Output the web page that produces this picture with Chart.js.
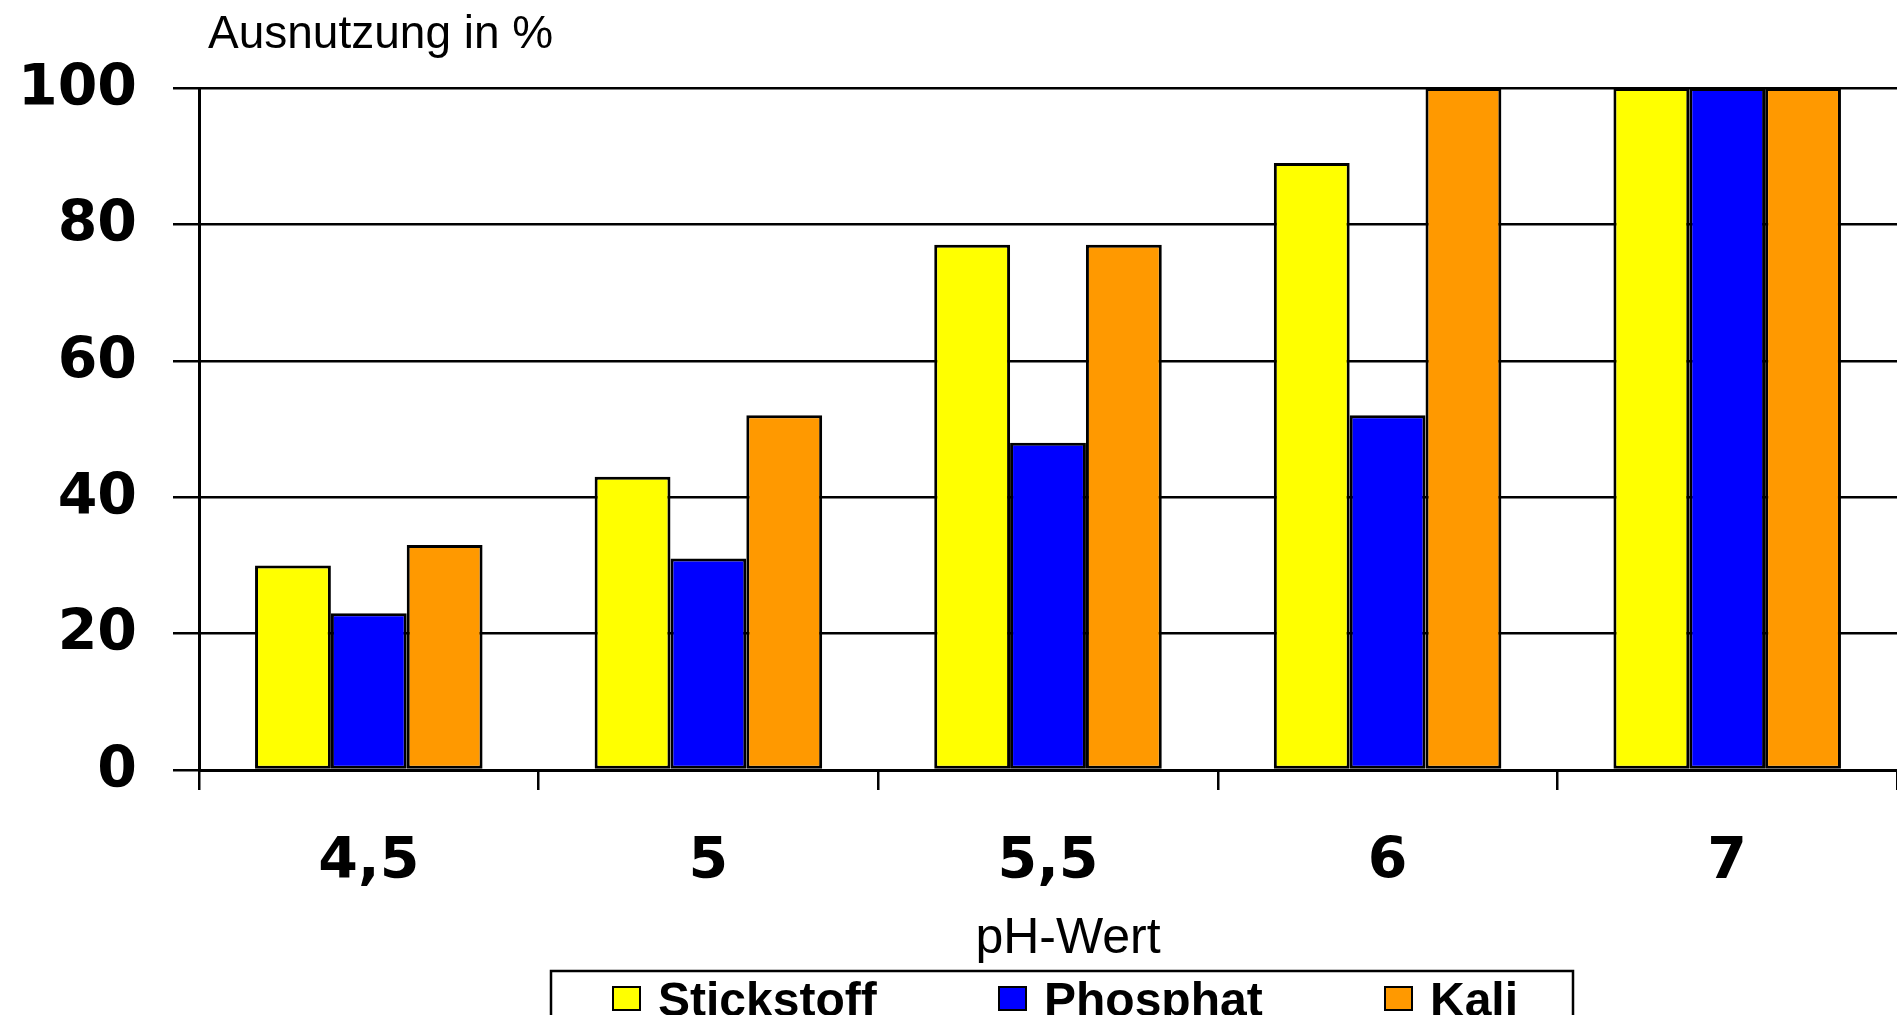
<!DOCTYPE html>
<html>
<head>
<meta charset="utf-8">
<script src="https://cdn.jsdelivr.net/npm/chart.js@4.4.1/dist/chart.umd.min.js"></script>
<style>
html,body{margin:0;padding:0;background:#fff;overflow:hidden;}
#wrap{width:1897px;height:1015px;}
</style>
</head>
<body>
<div id="wrap"><canvas id="c" width="1897" height="1015"></canvas></div>
<script>
const categories = ["4,5", "5", "5,5", "6", "7"];
const stickstoff = [30, 43, 77, 89, 100];
const phosphat   = [23, 31, 48, 52, 100];
const kali       = [33, 52, 77, 100, 100];
const seriesNames = ["Stickstoff", "Phosphat", "Kali"];
const seriesColors = ["#FFFF00", "#0000FF", "#FF9900"];
const yTicks = [0, 20, 40, 60, 80, 100];
const yTitle = "Ausnutzung in %";
const xTitle = "pH-Wert";

const overlay = {
  id: 'overlay',
  afterDraw(chart) {
    const ctx = chart.ctx;
    ctx.save();
    ctx.fillStyle = '#000';
    ctx.textBaseline = 'alphabetic';
    ctx.font = '46px "Liberation Sans", Arial, sans-serif';
    ctx.textAlign = 'left';
    ctx.fillText(yTitle, 208, 48);
    ctx.font = '50px "Liberation Sans", Arial, sans-serif';
    ctx.textAlign = 'center';
    ctx.fillText(xTitle, 1068, 953);

    // legend box
    ctx.lineWidth = 2.5;
    ctx.strokeStyle = '#000';
    ctx.fillStyle = '#fff';
    ctx.beginPath();
    ctx.rect(551, 971, 1022, 80);
    ctx.fill();
    ctx.stroke();
    ctx.font = 'bold 48px "Liberation Sans", Arial, sans-serif';
    ctx.textAlign = 'left';
    const x0 = 613, step = 386;
    chart.data.datasets.forEach((ds, i) => {
      const x = x0 + i * step;
      ctx.fillStyle = ds.backgroundColor;
      ctx.fillRect(x, 987, 27, 23);
      ctx.lineWidth = 2;
      ctx.strokeStyle = '#000';
      ctx.strokeRect(x, 987, 27, 23);
      ctx.fillStyle = '#000';
      ctx.fillText(ds.label, x + 45, 1016);
    });
    ctx.restore();
  }
};

new Chart(document.getElementById('c'), {
  type: 'bar',
  data: {
    labels: categories,
    datasets: [stickstoff, phosphat, kali].map((d, i) => ({
      label: seriesNames[i],
      data: d,
      backgroundColor: seriesColors[i],
      borderColor: '#000',
      borderWidth: 3,
      borderSkipped: false,
      categoryPercentage: 0.67,
      barPercentage: 1.0
    }))
  },
  options: {
    responsive: false,
    animation: false,
    devicePixelRatio: 1,
    layout: { padding: { top: 88, right: 0, left: 0, bottom: 0 } },
    plugins: { legend: { display: false }, title: { display: false }, tooltip: { enabled: false } },
    scales: {
      x: {
        grid: { offset: true, drawOnChartArea: false, drawTicks: true, tickLength: 20, color: '#000', lineWidth: 2.5 },
        border: { display: true, color: '#000', width: 3 },
        ticks: { color: '#000', padding: 39, font: { family: '"DejaVu Sans", sans-serif', weight: 'bold', size: 57 } },
        afterFit(scale) { scale.height = 245; }
      },
      y: {
        min: 0, max: 100,
        afterBuildTicks(scale) { scale.ticks = yTicks.map(v => ({ value: v })); },
        grid: { color: '#000', lineWidth: 2.5, tickLength: 26, drawTicks: true },
        border: { display: true, color: '#000', width: 3 },
        ticks: { color: '#000', padding: 36, labelOffset: 2, font: { family: '"DejaVu Sans", sans-serif', weight: 'bold', size: 57 } },
        afterFit(scale) { scale.width = 199; }
      }
    }
  },
  plugins: [overlay]
});
</script>
</body>
</html>
